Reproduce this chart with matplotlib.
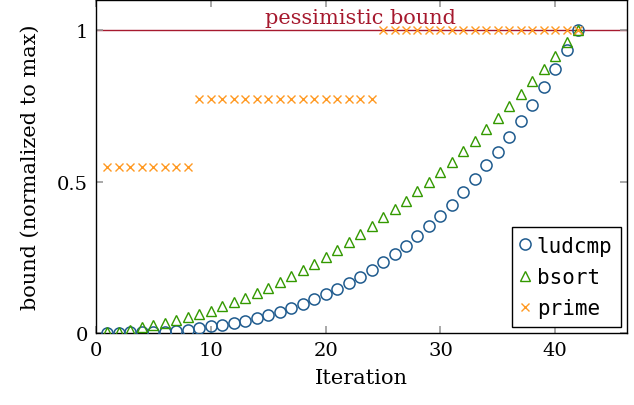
import numpy as np
import matplotlib
matplotlib.use('Agg')
import matplotlib.pyplot as plt

plt.rcParams['font.family'] = ['DejaVu Serif']

iterations = list(range(1, 43))

ludcmp = [0.0, 0.0, 0.002, 0.002, 0.003, 0.005, 0.008, 0.011, 0.018, 0.022,
          0.027, 0.034, 0.040, 0.051, 0.059, 0.069, 0.083, 0.097, 0.112, 0.128,
          0.145, 0.164, 0.186, 0.209, 0.234, 0.261, 0.287, 0.320, 0.353, 0.386,
          0.423, 0.465, 0.508, 0.554, 0.597, 0.647, 0.700, 0.752, 0.812, 0.871,
          0.934, 1.0]

bsort = [0.002, 0.005, 0.010, 0.019, 0.025, 0.033, 0.042, 0.052, 0.062, 0.074,
         0.088, 0.101, 0.117, 0.132, 0.150, 0.167, 0.187, 0.208, 0.229, 0.251,
         0.275, 0.300, 0.326, 0.353, 0.382, 0.409, 0.436, 0.469, 0.498, 0.532,
         0.565, 0.601, 0.634, 0.673, 0.710, 0.749, 0.789, 0.832, 0.871, 0.914,
         0.960, 1.0]

prime = [0.547] * 8 + [0.772] * 16 + [1.0] * 18

blue = '#1f5b8e'
green = '#339900'
orange = '#ff9922'
red = '#a6192e'

fig = plt.figure(figsize=(6.34, 4.06), dpi=100)
ax = fig.add_axes([0.1514, 0.1773, 0.8376, 0.8202])

ax.axhline(1.0, color=red, lw=1.0, zorder=1)
ax.text(23, 1.01, 'pessimistic bound', color=red, fontsize=15,
        ha='center', va='bottom')

ax.plot(iterations, ludcmp, 'o', ms=8, mfc='none', mec=blue, mew=1.1,
        label='ludcmp', zorder=3)
ax.plot(iterations, bsort, '^', ms=7, mfc='none', mec=green, mew=1.0,
        label='bsort', zorder=3)
ax.plot(iterations, prime, 'x', ms=6, color=orange, mew=1.0,
        label='prime', zorder=3)

ax.set_xlim(0, 46.25)
ax.set_ylim(0, 1.099)
ax.set_xticks([0, 10, 20, 30, 40])
ax.set_yticks([0, 0.5, 1])
ax.set_yticklabels(['0', '0.5', '1'])
ax.tick_params(direction='in', length=5, color='#999999', width=1.2,
               top=True, right=True, labelsize=14, pad=6)
for s in ax.spines.values():
    s.set_linewidth(1.0)

ax.set_xlabel('Iteration', fontsize=15, labelpad=6)
ax.set_ylabel('bound (normalized to max)', fontsize=15, labelpad=12)

leg = ax.legend(loc='lower right', prop={'family': 'DejaVu Sans Mono', 'size': 15},
                fancybox=False, framealpha=1, edgecolor='black',
                handlelength=0.5, handletextpad=0.3, borderpad=0.4,
                labelspacing=0.55, borderaxespad=0.3)
leg.get_frame().set_linewidth(1.0)

fig.savefig('out.png', dpi=100)
